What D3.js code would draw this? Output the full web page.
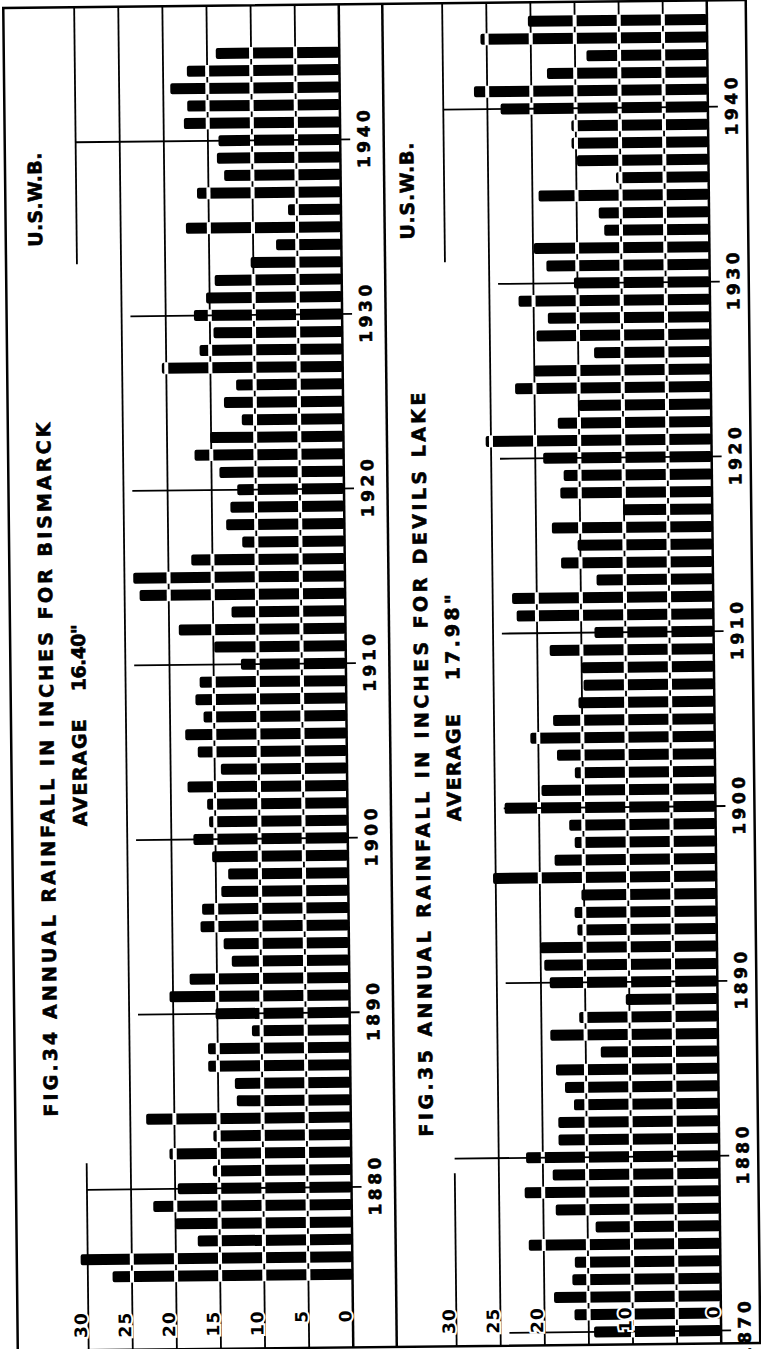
<!DOCTYPE html>
<html>
<head>
<meta charset="utf-8">
<script src="https://cdn.jsdelivr.net/npm/d3@7/dist/d3.min.js"></script>
<style>
  body { margin: 0; background: #fff; }
  svg text { font-family: "DejaVu Sans", sans-serif; font-weight: bold; fill: #000; }
</style>
</head>
<body>
<div id="chart"></div>
<script>
// Annual rainfall (inches)
const bismarckStart = 1875;
const bismarckRain = [
  27.2, 30.8, 17.5, 20.0, 22.5, 19.7, 15.7, 20.6, 15.6, 23.2,   // 1875-1884
  12.9, 13.1, 16.1, 16.1, 11.1, 15.2, 20.4, 18.1, 13.3, 14.2,   // 1885-1894
  16.8, 16.6, 14.4, 13.6, 15.4, 17.5, 15.7, 15.9, 18.1, 14.3,   // 1895-1904
  16.9, 18.3, 16.2, 17.1, 16.6, 11.9, 14.9, 18.9, 12.9, 23.3,   // 1905-1914
  24.0, 17.4, 11.6, 13.4, 12.9, 12.1, 14.1, 16.9, 15.1, 11.5,   // 1915-1924
  13.5, 12.1, 20.5, 16.2, 14.6, 16.8, 15.4, 14.4, 10.3, 7.4,    // 1925-1934
  17.6, 6.0, 16.3, 13.2, 14.0, 13.8, 17.7, 17.3, 19.2, 17.3, 14.0 // 1935-1945
];

const devilsStart = 1870;
const devilsRain = [
  14.4, 16.6, 18.9, 16.8, 16.5, 21.7, 14.1, 18.6, 22.1, 18.9,   // 1870-1879
  21.9, 18.2, 18.2, 16.4, 17.4, 18.4, 13.3, 19.0, 15.7, 10.4,   // 1880-1889
  19.0, 19.6, 20.0, 15.8, 16.1, 15.3, 25.3, 18.3, 16.0, 16.6,   // 1890-1899
  23.9, 19.7, 15.9, 17.9, 20.9, 18.3, 15.4, 14.8, 15.0, 18.6,   // 1900-1909
  13.5, 22.3, 22.8, 13.2, 17.2, 15.3, 18.2, 10.1, 17.2, 16.8,   // 1910-1919
  19.1, 25.6, 17.4, 15.0, 22.2, 20.0, 13.2, 19.7, 18.4, 21.7,   // 1920-1929
  15.4, 18.5, 19.9, 11.9, 12.5, 19.3, 10.5, 14.9, 15.5, 15.5,   // 1930-1939
  23.5, 26.5, 18.2, 13.7, 25.7, 20.3                            // 1940-1945
];

const gridValues = [5, 10, 15, 20, 25];
const bismarckDecades = [1880, 1890, 1900, 1910, 1920, 1930, 1940];
const devilsDecades = [1870, 1880, 1890, 1900, 1910, 1920, 1930, 1940];
const longDecades = [1880, 1940];
const bismarckAxisLabels = [30, 25, 20, 15, 10, 5, 0];
const devilsAxisLabels = [30, 25, 20, 10, 0];

const W = 761, H = 1349;
const frameTop = 4, frameBottom = 1347, frameLeft = 10.5, frameRight = 753, divider = 389.5;
const inch = 8.82;
const barH = 11;

const svg = d3.select('#chart').append('svg')
    .attr('width', W)
    .attr('height', H);

svg.append('rect').attr('width', W).attr('height', H).attr('fill', '#fff');

// the scan sits slightly askew
const root = svg.append('g').attr('transform', 'rotate(-0.62, 380, 675)');

root.append('rect')
    .attr('x', frameLeft).attr('y', frameTop)
    .attr('width', frameRight - frameLeft).attr('height', frameBottom - frameTop)
    .attr('fill', 'none').attr('stroke', '#000').attr('stroke-width', 2.5);

root.append('line')
    .attr('x1', divider).attr('x2', divider)
    .attr('y1', frameTop).attr('y2', frameBottom)
    .attr('stroke', '#000').attr('stroke-width', 2.5);

// rotated text helper: reads bottom to top, centred on column cx
function vText(g, str, cx, yBottom, yTop, size) {
    const cap = size * 0.73;
    g.append('text')
        .attr('transform', `translate(${cx + cap / 2},${yBottom}) rotate(-90)`)
        .attr('text-anchor', 'start')
        .attr('textLength', yBottom - yTop)
        .attr('lengthAdjust', 'spacing')
        .attr('stroke', '#000').attr('stroke-width', 0.6)
        .style('font-size', size + 'px')
        .text(str);
}

function drawPanel(p) {
    const g = root.append('g');

    const x = d3.scaleLinear().domain([0, 30]).range([p.zeroX, p.zeroX - 30 * inch]);
    const y = d3.scaleLinear().domain([1880, 1940]).range([p.y1880, p.y1940]);

    const data = p.rain.map((v, i) => ({ year: p.start + i, v: v }));

    // grid lines 5..25 through the full panel
    g.selectAll('.grid')
        .data(gridValues)
        .enter()
        .append('line')
        .attr('x1', d => x(d)).attr('x2', d => x(d))
        .attr('y1', frameTop).attr('y2', frameBottom)
        .attr('stroke', '#000').attr('stroke-width', 1.8);

    // 30 line only near both ends
    g.selectAll('.grid30')
        .data([[frameTop, p.top30], [p.bottom30, frameBottom]])
        .enter()
        .append('line')
        .attr('x1', x(30)).attr('x2', x(30))
        .attr('y1', d => d[0]).attr('y2', d => d[1])
        .attr('stroke', '#000').attr('stroke-width', 1.8);

    // bars
    g.selectAll('.bar')
        .data(data)
        .enter()
        .append('rect')
        .attr('x', d => x(d.v))
        .attr('width', d => p.zeroX - x(d.v))
        .attr('y', d => y(d.year) - barH / 2)
        .attr('height', barH)
        .attr('rx', 2)
        .attr('fill', '#000');

    // grid lines show white where they cross the bars
    data.forEach(d => {
        gridValues.filter(v => v < d.v - 0.4).forEach(v => {
            g.append('line')
                .attr('x1', x(v)).attr('x2', x(v))
                .attr('y1', y(d.year) - barH / 2 - 0.5)
                .attr('y2', y(d.year) + barH / 2 + 0.5)
                .attr('stroke', '#fff').attr('stroke-width', 4);
        });
    });

    // zero line
    g.append('line')
        .attr('x1', p.zeroX).attr('x2', p.zeroX)
        .attr('y1', frameTop).attr('y2', frameBottom)
        .attr('stroke', '#000').attr('stroke-width', 2.5);

    // decade ticks
    g.selectAll('.tick')
        .data(p.decades)
        .enter()
        .append('line')
        .attr('x1', d => x(longDecades.includes(d) ? 30 : 24))
        .attr('x2', p.zeroX + 10)
        .attr('y1', d => y(d)).attr('y2', d => y(d))
        .attr('stroke', '#000').attr('stroke-width', 1.8);

    // decade labels
    p.decades.forEach(d => {
        g.append('text')
            .attr('transform', `translate(${p.zeroX + 29.5},${y(d)}) rotate(-90)`)
            .attr('text-anchor', 'middle')
            .attr('textLength', 58)
            .attr('lengthAdjust', 'spacing')
            .attr('stroke', '#000').attr('stroke-width', 0.6)
            .style('font-size', '17px')
            .text(d);
    });

    // value labels along the bottom
    p.axisLabels.forEach(v => {
        g.append('text')
            .attr('transform', `translate(${x(v) - 1.5},${1309}) rotate(-90)`)
            .attr('text-anchor', 'end')
            .style('font-size', '17px')
            .style('letter-spacing', '1px')
            .attr('stroke', '#fff').attr('stroke-width', 4)
            .attr('paint-order', 'stroke')
            .text(v);
    });

    // titles
    vText(g, p.title, p.titleX, p.titleY[0], p.titleY[1], 19);
    vText(g, 'AVERAGE', p.avgX, p.avgY, p.avgY - 107, 19);
    vText(g, p.avg, p.avgX, p.avgNumY[0], p.avgNumY[1], 19);
    vText(g, 'U.S.W.B.', p.uswbX, p.uswbY[0], p.uswbY[1], 19);
}

drawPanel({
    start: bismarckStart, rain: bismarckRain, decades: bismarckDecades,
    zeroX: 346, y1880: 1186.6, y1940: 139,
    top30: 261, bottom30: 1160,
    axisLabels: bismarckAxisLabels,
    title: 'FIG.34  ANNUAL  RAINFALL  IN  INCHES  FOR  BISMARCK',
    titleX: 46, titleY: [1113, 419],
    avg: '16.40"', avgX: 78.5, avgY: 823, avgNumY: [688, 621],
    uswbX: 40, uswbY: [243, 149]
});

drawPanel({
    start: devilsStart, rain: devilsRain, decades: devilsDecades,
    zeroX: 714, y1880: 1159.4, y1940: 110.4,
    top30: 263, bottom30: 1174,
    axisLabels: devilsAxisLabels,
    title: 'FIG.35  ANNUAL  RAINFALL  IN  INCHES  FOR  DEVILS  LAKE',
    titleX: 421, titleY: [1137, 393],
    avg: '17.98"', avgX: 452.5, avgY: 822, avgNumY: [681, 595],
    uswbX: 412, uswbY: [240, 143]
});
</script>
</body>
</html>
